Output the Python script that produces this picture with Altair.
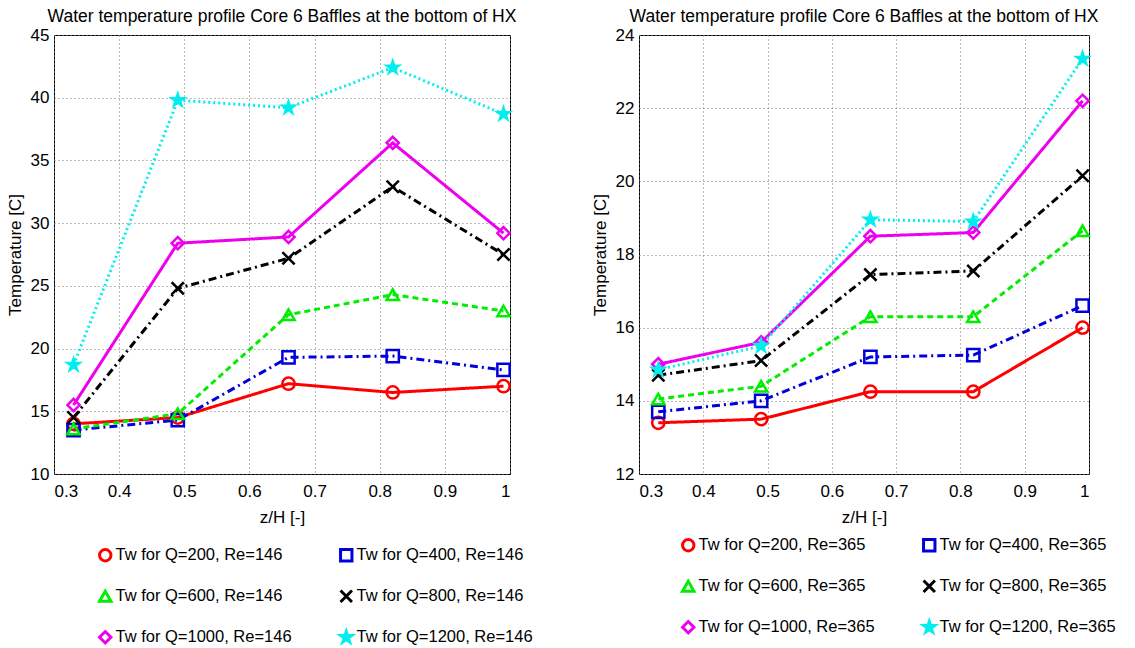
import altair as alt
import pandas as pd

FONT = "Liberation Sans"

z = [0.33, 0.49, 0.66, 0.82, 0.99]
flows = [200, 400, 600, 800, 1000, 1200]

# Left panel (Re=146)
left_q200 = [14.0, 14.5, 17.2, 16.5, 17.0]
left_q400 = [13.5, 14.3, 19.3, 19.4, 18.3]
left_q600 = [13.6, 14.8, 22.7, 24.3, 23.0]
left_q800 = [14.5, 24.8, 27.2, 32.9, 27.5]
left_q1000 = [15.5, 28.4, 28.9, 36.4, 29.2]
left_q1200 = [18.7, 39.8, 39.2, 42.4, 38.7]

# Right panel (Re=365)
right_q200 = [13.4, 13.5, 14.25, 14.25, 16.0]
right_q400 = [13.7, 14.0, 15.2, 15.25, 16.6]
right_q600 = [14.05, 14.4, 16.3, 16.3, 18.65]
right_q800 = [14.7, 15.1, 17.45, 17.55, 20.15]
right_q1000 = [15.0, 15.6, 18.5, 18.6, 22.2]
right_q1200 = [14.85, 15.5, 18.95, 18.9, 23.35]

colors = ["#ff0000", "#0000dd", "#00ee00", "#000000", "#ee00ee", "#00eeee"]
dashes = [[1, 0], [8, 4, 2, 4], [6, 4], [8, 4, 2, 4], [1, 0], [2, 3]]
STAR = ("M0,-1L0.2245,-0.309L0.9511,-0.309L0.3633,0.118L0.5878,0.809L0,0.382"
        "L-0.5878,0.809L-0.3633,0.118L-0.9511,-0.309L-0.2245,-0.309Z")
XMARK = "M-1,-1L1,1M-1,1L1,-1"
shapes = ["circle", "square", "triangle-up", XMARK, "diamond", STAR]
fills = ["transparent", "transparent", "transparent", "transparent", "transparent", "#00eeee"]

# legend is laid out column by column: put series in that order
LEG_ORDER = [0, 2, 4, 1, 3, 5]


def panel(series_vals, re, ydom, yvals, width, legx, legy):
    labels = [f"Tw for Q={q}, Re={re}" for q in flows]
    rows = []
    for lab, vals in zip(labels, series_vals):
        for zz, t in zip(z, vals):
            rows.append({"z": zz, "T": t, "series": lab})
    df = pd.DataFrame(rows)

    dom = [labels[i] for i in LEG_ORDER]
    pick = lambda arr: [arr[i] for i in LEG_ORDER]

    x = alt.X("z:Q", scale=alt.Scale(domain=[0.3, 1.0], nice=False),
              axis=alt.Axis(values=[0.3, 0.4, 0.5, 0.6, 0.7, 0.8, 0.9, 1.0],
                            format="~g", title="z/H [-]", labelPadding=9, titlePadding=10))
    y = alt.Y("T:Q", scale=alt.Scale(domain=ydom, nice=False),
              axis=alt.Axis(values=yvals, title="Temperature [C]"))
    leg = alt.Legend(orient="none", legendX=legx, legendY=legy, columns=2,
                     columnPadding=42, rowPadding=17, title=None,
                     labelFontSize=16.5, labelFont=FONT, labelColor="black",
                     labelLimit=400, symbolSize=130,
                     symbolStrokeWidth=3, padding=0, labelOffset=2)
    base = alt.Chart(df)
    # lines: scales use the natural order (different domain -> not merged into legend)
    lines = base.mark_line(strokeWidth=3).encode(
        x=x, y=y,
        color=alt.Color("series:N", scale=alt.Scale(domain=labels, range=colors), legend=None),
        strokeDash=alt.StrokeDash("series:N", scale=alt.Scale(domain=labels, range=dashes),
                                  legend=None),
    )
    pts = base.mark_point(filled=False, strokeWidth=2.5, size=150, opacity=1).encode(
        x=x, y=y,
        stroke=alt.Stroke("series:N", scale=alt.Scale(domain=dom, range=pick(colors)), legend=leg),
        shape=alt.Shape("series:N", scale=alt.Scale(domain=dom, range=pick(shapes)), legend=leg),
        fill=alt.Fill("series:N", scale=alt.Scale(domain=dom, range=pick(fills)), legend=leg),
    )
    return alt.layer(lines, pts).properties(
        width=width, height=439,
        title=alt.TitleParams("Water temperature profile Core 6 Baffles at the bottom of HX",
                              fontSize=17.5, fontWeight="normal", font=FONT, offset=1,
                              color="black"),
    )


left = panel([left_q200, left_q400, left_q600, left_q800, left_q1000, left_q1200],
             146, [10, 45], [10, 15, 20, 25, 30, 35, 40, 45], 456, 43, 512)
right = panel([right_q200, right_q400, right_q600, right_q800, right_q1000, right_q1200],
              365, [12, 24], [12, 14, 16, 18, 20, 22, 24], 450, 41, 502)

chart = alt.hconcat(left, right, spacing=56).resolve_scale(
    x="independent", y="independent", color="independent", stroke="independent",
    strokeDash="independent", shape="independent", fill="independent",
).resolve_legend(stroke="independent", shape="independent", fill="independent").configure_view(
    stroke="black", strokeWidth=1
).configure_axis(
    grid=True, gridDash=[1, 3], gridColor="#777777", gridOpacity=1, gridWidth=1,
    domain=False, ticks=False, labelFont=FONT, labelFontSize=17, labelColor="black",
    titleFont=FONT, titleFontSize=17, titleFontWeight="normal", titleColor="black",
    labelPadding=5, titlePadding=6,
).properties(padding={"left": 5, "top": 7, "right": 5, "bottom": 0}, background="white")

chart.save("out.html", embed_options={"renderer": "svg", "actions": False})
